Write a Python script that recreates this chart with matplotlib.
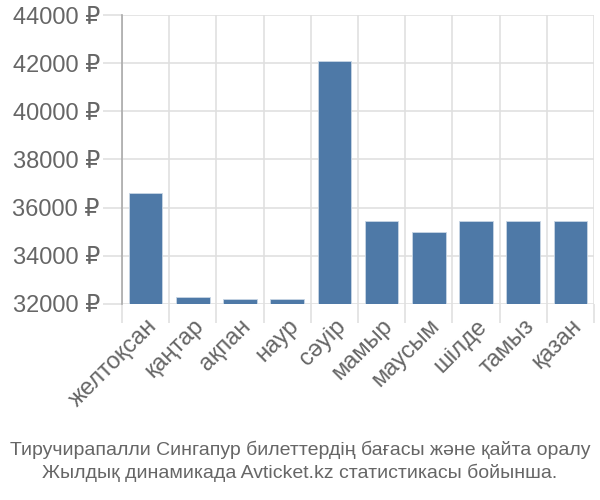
import matplotlib.pyplot as plt
import numpy as np

months = ["желтоқсан", "қаңтар", "ақпан", "наур", "сәуір",
          "мамыр", "маусым", "шілде", "тамыз", "қазан"]
prices = [36620, 32290, 32200, 32200, 42070, 35460, 35000, 35460, 35460, 35460]
yticks = [32000, 34000, 36000, 38000, 40000, 42000, 44000]
caption = ("Тиручирапалли Сингапур билеттердің бағасы және қайта оралу\n"
           "Жылдық динамикада Avticket.kz статистикасы бойынша.")

plt.rcParams['font.family'] = ['Liberation Sans', 'DejaVu Sans']
text_color = "#666666"
grid_color = "#e0e0e0"

fig = plt.figure(figsize=(6, 5), dpi=100)
ax = fig.add_axes([0.2033, 0.392, 0.7867, 0.578])

x = np.arange(len(months))
base = yticks[0]
ax.bar(x, [p - base for p in prices], bottom=base, width=0.71,
       color="#4e79a7", edgecolor="#c8d6e5", linewidth=0.6, zorder=3)

ax.set_xlim(-0.5, len(months) - 0.5)
ax.set_ylim(yticks[0], yticks[-1])

ax.set_yticks(yticks)
ax.set_yticklabels([f"{v} ₽" for v in yticks], fontsize=17, color=text_color)
ax.tick_params(axis="y", length=14, width=1.2, color=grid_color, pad=2)

ax.set_xticks(x)
ax.set_xticklabels(months, rotation=45, ha="right", rotation_mode="anchor",
                   fontsize=17, color=text_color)
ax.tick_params(axis="x", which="major", length=0, pad=8)
ax.set_xticks(np.arange(-0.5, len(months)), minor=True)
ax.tick_params(axis="x", which="minor", length=14, width=1.2, color=grid_color)

ax.grid(True, axis="y", color=grid_color, linewidth=1.2, zorder=0)
ax.grid(True, axis="x", which="minor", color=grid_color, linewidth=1.2, zorder=0)

for s in ["top", "right", "bottom"]:
    ax.spines[s].set_visible(False)
ax.spines["left"].set_color("#aaaaaa")
ax.spines["left"].set_linewidth(1.2)
ax.spines["left"].set_zorder(4)

fig.text(0.5, 0.035, caption, ha="center", va="bottom", fontsize=14,
         color=text_color, linespacing=1.35)

fig.savefig("out.png", dpi=100)
